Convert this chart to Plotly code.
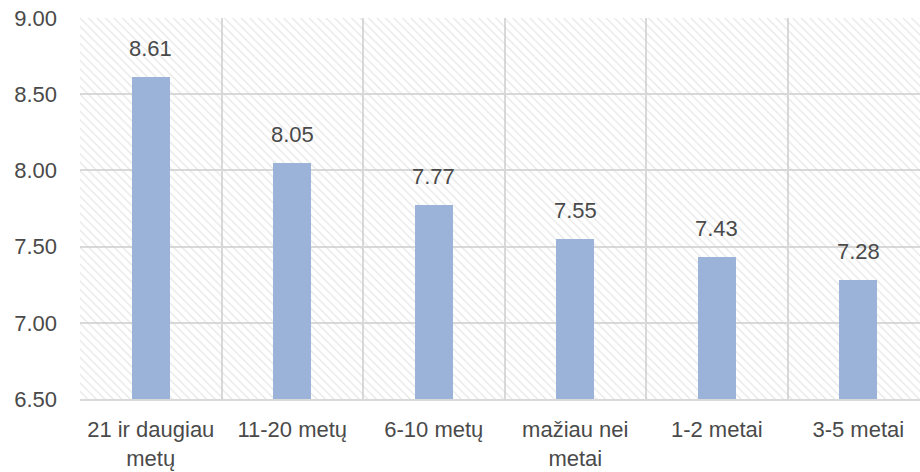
import plotly.graph_objects as go

categories = ["21 ir daugiau<br>metų", "11-20 metų", "6-10 metų", "mažiau nei<br>metai", "1-2 metai", "3-5 metai"]
values = [8.61, 8.05, 7.77, 7.55, 7.43, 7.28]
labels = ["8.61", "8.05", "7.77", "7.55", "7.43", "7.28"]
y_ticks = [6.5, 7.0, 7.5, 8.0, 8.5, 9.0]
y_tick_text = ["6.50", "7.00", "7.50", "8.00", "8.50", "9.00"]

Y_MIN, Y_MAX = 6.5, 9.0
FONT = "Liberation Sans"
TXT = "#4a4a4a"
GRID = "#d9d9d9"
FS = 22

fig = go.Figure()

# hatched plot-area background
fig.add_trace(go.Bar(
    x=categories,
    y=[Y_MAX - Y_MIN] * len(categories),
    base=Y_MIN,
    width=1,
    marker=dict(
        color="rgba(0,0,0,0)",
        line=dict(width=0),
        pattern=dict(shape="\\", fgcolor="#cfcfcf", bgcolor="rgba(0,0,0,0)", size=6, solidity=0.22),
    ),
    hoverinfo="skip",
    showlegend=False,
))

fig.add_trace(go.Bar(
    x=categories,
    y=[v - Y_MIN for v in values],
    base=Y_MIN,
    width=0.27,
    marker=dict(color="#9bb3d8", line=dict(width=0)),
    showlegend=False,
))

for c, v, t in zip(categories, values, labels):
    fig.add_annotation(
        x=c, y=v, text=t, showarrow=False, yanchor="bottom", yshift=14,
        font=dict(family=FONT, size=FS, color=TXT),
    )

fig.update_layout(
    width=920, height=472,
    margin=dict(l=80, r=0, t=18, b=73),
    paper_bgcolor="white",
    plot_bgcolor="white",
    barmode="overlay",
    bargap=0,
    font=dict(family=FONT, size=FS, color=TXT),
    xaxis=dict(
        type="category",
        range=[-0.5, 5.436],
        tickson="boundaries",
        automargin=False,
        showgrid=True, gridcolor=GRID, gridwidth=1.5,
        ticks="",
        showline=True, linecolor=GRID, linewidth=2,
        tickfont=dict(family=FONT, size=FS, color=TXT),
        ticklabelstandoff=10,
    ),
    yaxis=dict(
        range=[Y_MIN, Y_MAX],
        tickvals=y_ticks, ticktext=y_tick_text,
        automargin=False,
        showgrid=True, gridcolor=GRID, gridwidth=1.5,
        zeroline=False,
        ticks="",
        tickfont=dict(family=FONT, size=FS, color=TXT),
        ticklabelstandoff=22,
    ),
)

fig.write_html(
    "out.html",
    config={"displayModeBar": False},
    post_script="document.body.style.margin='0';document.body.style.overflow='hidden';",
)
